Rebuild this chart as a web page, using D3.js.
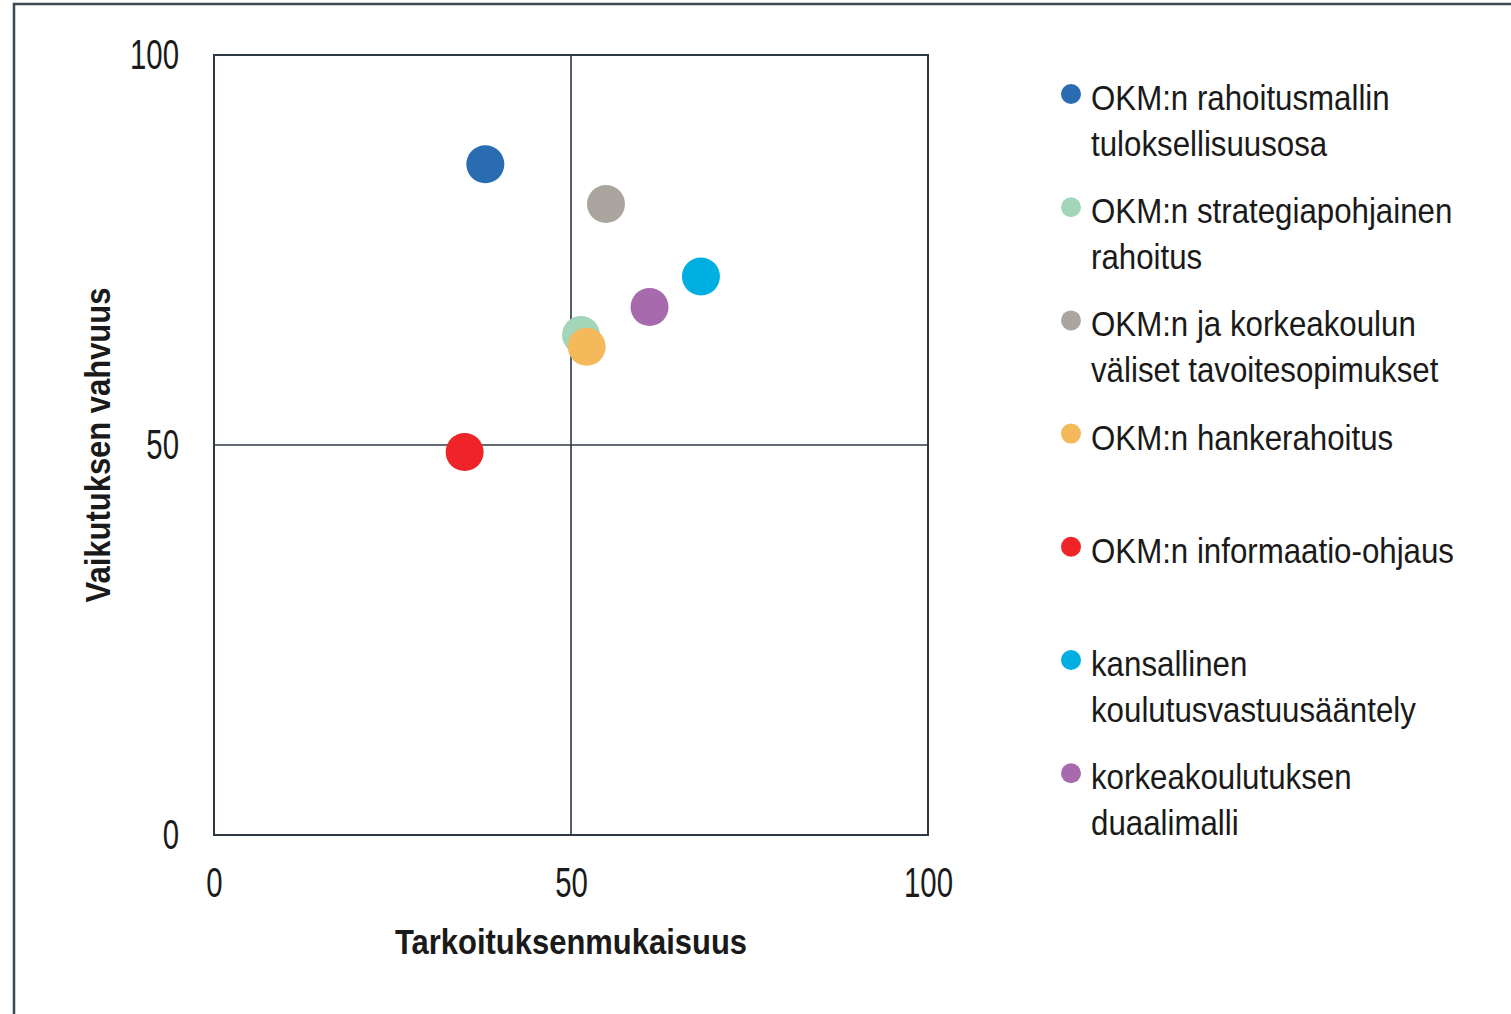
<!DOCTYPE html>
<html>
<head>
<meta charset="utf-8">
<script src="https://cdn.jsdelivr.net/npm/d3@7"></script>
<style>
    body { margin: 0; background: #ffffff; }
    text { font-family: "Liberation Sans", Arial, sans-serif; fill: #1a1a1a; }
</style>
</head>
<body>
<svg id="chart"></svg>
<script>
// sarjat (legendin järjestyksessä)
var seriesNames = [
    "OKM:n rahoitusmallin\ntuloksellisuusosa",
    "OKM:n strategiapohjainen\nrahoitus",
    "OKM:n ja korkeakoulun\nväliset tavoitesopimukset",
    "OKM:n hankerahoitus",
    "OKM:n informaatio-ohjaus",
    "kansallinen\nkoulutusvastuusääntely",
    "korkeakoulutuksen\nduaalimalli"
];
var xValues = [38.0, 51.4, 54.9, 52.2, 35.1, 68.2, 61.0];
var yValues = [86.0, 64.1, 80.9, 62.6, 49.1, 71.6, 67.7];
var seriesColors = ["#2a6cb1", "#a3d6b8", "#aaa69f", "#f3b95a", "#ee2428", "#00afe2", "#a76bad"];

var xTicks = [0, 50, 100];
var yTicks = [0, 50, 100];
var xTitle = "Tarkoituksenmukaisuus";
var yTitle = "Vaikutuksen vahvuus";

var svgW = 1511, svgH = 1014;
var plot = { left: 214, top: 55, right: 928, bottom: 835 };
var lineColor = "#2e3945";
// kapea kirjasin (Arial Narrow -tyyli) vaakaskaalauksella
var tickNarrow = 0.70, titleNarrow = 0.86, legendNarrow = 0.893;

var svg = d3.select("#chart").attr("width", svgW).attr("height", svgH);

// ulkokehys (jatkuu kuvan oikean ja alareunan yli)
svg.append("path")
    .attr("d", `M14,${svgH + 5} L14,4 L${svgW + 5},4`)
    .attr("fill", "none")
    .attr("stroke", "#3d4853")
    .attr("stroke-width", 2.5);

var xScale = d3.scaleLinear().domain([0, 100]).range([plot.left, plot.right]);
var yScale = d3.scaleLinear().domain([0, 100]).range([plot.bottom, plot.top]);

var xPad = 32, yPad = 35;
var xAxis = d3.axisBottom(xScale).tickValues(xTicks).tickSize(0).tickPadding(xPad);
var yAxis = d3.axisLeft(yScale).tickValues(yTicks).tickSize(0).tickPadding(yPad);

var xAxisG = svg.append("g").attr("transform", `translate(0,${plot.bottom})`).call(xAxis);
var yAxisG = svg.append("g").attr("transform", `translate(${plot.left},0)`).call(yAxis);
[xAxisG, yAxisG].forEach(function (g) {
    g.attr("font-family", null).attr("font-size", null);
    g.select(".domain").remove();
    g.selectAll("text")
        .attr("font-size", 42)
        .attr("fill", "#1b1b2b")
        .attr("transform", `scale(${tickNarrow},1)`);
});
yAxisG.selectAll("text").attr("x", -yPad / tickNarrow);

// kvadranttiviivat
svg.append("line")
    .attr("x1", xScale(50)).attr("x2", xScale(50))
    .attr("y1", plot.top).attr("y2", plot.bottom)
    .attr("stroke", lineColor).attr("stroke-width", 1.6);
svg.append("line")
    .attr("x1", plot.left).attr("x2", plot.right)
    .attr("y1", yScale(50)).attr("y2", yScale(50))
    .attr("stroke", lineColor).attr("stroke-width", 1.6);

// kuvaajan kehys
svg.append("rect")
    .attr("x", plot.left).attr("y", plot.top)
    .attr("width", plot.right - plot.left)
    .attr("height", plot.bottom - plot.top)
    .attr("fill", "none")
    .attr("stroke", lineColor)
    .attr("stroke-width", 2);

// akselien otsikot
svg.append("text")
    .attr("transform", `translate(${(plot.left + plot.right) / 2},954) scale(${titleNarrow},1)`)
    .attr("text-anchor", "middle")
    .attr("font-size", 36)
    .attr("font-weight", "bold")
    .text(xTitle);

svg.append("text")
    .attr("transform", `translate(110,${(plot.top + plot.bottom) / 2}) rotate(-90) scale(${titleNarrow},1)`)
    .attr("text-anchor", "middle")
    .attr("font-size", 36)
    .attr("font-weight", "bold")
    .text(yTitle);

// pisteet
var points = d3.range(seriesNames.length);
svg.append("g").selectAll("circle")
    .data(points)
    .join("circle")
    .attr("cx", function (i) { return xScale(xValues[i]); })
    .attr("cy", function (i) { return yScale(yValues[i]); })
    .attr("r", 19)
    .attr("fill", function (i) { return seriesColors[i]; });

// legenda
var legendTop = 94, legendStep = 113.2, lineStep = 46;
var legendG = svg.append("g").attr("transform", "translate(1071,0)");
var items = legendG.selectAll("g")
    .data(points)
    .join("g")
    .attr("transform", function (i) { return `translate(0,${legendTop + i * legendStep})`; });
items.append("circle")
    .attr("r", 10)
    .attr("fill", function (i) { return seriesColors[i]; });
items.append("text")
    .attr("transform", `translate(20,0) scale(${legendNarrow},1)`)
    .attr("font-size", 35)
    .attr("fill", "#161620")
    .selectAll("tspan")
    .data(function (i) { return seriesNames[i].split("\n"); })
    .join("tspan")
    .attr("x", 0)
    .attr("y", function (d, j) { return j * lineStep + 16; })
    .text(function (d) { return d; });
</script>
</body>
</html>
